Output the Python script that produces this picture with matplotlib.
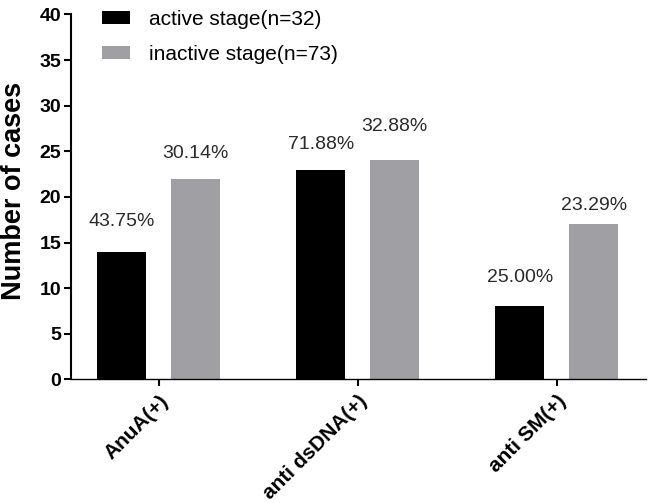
import matplotlib
matplotlib.use("Agg")
import matplotlib.pyplot as plt
import numpy as np

plt.rcParams['font.family'] = ['Liberation Sans', 'DejaVu Sans']

categories = ["AnuA(+)", "anti dsDNA(+)", "anti SM(+)"]
active = [14, 23, 8]
inactive = [22, 24, 17]
active_pct = ["43.75%", "71.88%", "25.00%"]
inactive_pct = ["30.14%", "32.88%", "23.29%"]
active_label_y = [17.3, 25.7, 11.2]
inactive_label_y = [24.8, 27.7, 19.1]
yticks = [0, 5, 10, 15, 20, 25, 30, 35, 40]

fig = plt.figure(figsize=(6.5, 5.03), dpi=100)
ax = fig.add_axes([71/650, 1-379.3/503, 575/650, 364.8/503])

x = np.arange(len(categories))
off = 0.186
w = 0.249
ax.bar(x - off, active, w, color='black', label='active stage(n=32)')
ax.bar(x + off, inactive, w, color='#a09fa4', label='inactive stage(n=73)')

for i in range(len(categories)):
    ax.text(x[i] - off, active_label_y[i], active_pct[i], ha='center', va='center',
            fontsize=14, color='#2a2a2a')
    ax.text(x[i] + off, inactive_label_y[i], inactive_pct[i], ha='center', va='center',
            fontsize=14, color='#2a2a2a')

ax.set_xlim(-0.4407, 2.4487)
ax.set_ylim(0, 40)
ax.set_yticks(yticks)
ax.set_yticklabels([str(t) for t in yticks], fontsize=14, fontweight='bold')
ax.set_xticks(x)
ax.set_xticklabels(categories, fontsize=15, fontweight='bold', rotation=45,
                   ha='right', rotation_mode='anchor')
ax.tick_params(axis='y', length=5, width=1.5, pad=2)
ax.tick_params(axis='x', length=5, width=1.5, pad=4)
ax.spines['top'].set_visible(False)
ax.spines['right'].set_visible(False)
ax.spines['left'].set_linewidth(1.5)
ax.spines['bottom'].set_linewidth(1.0)
ax.set_ylabel('Number of cases', fontsize=19.5, fontweight='bold')
ax.yaxis.set_label_coords(-0.0765, 0.515)

ax.legend(loc='upper left', bbox_to_anchor=(0.04, 1.035), frameon=False,
          fontsize=15, handlelength=1.35, handleheight=0.55, handletextpad=0.9,
          labelspacing=0.75, borderaxespad=0)

fig.savefig('out.png', dpi=100)
